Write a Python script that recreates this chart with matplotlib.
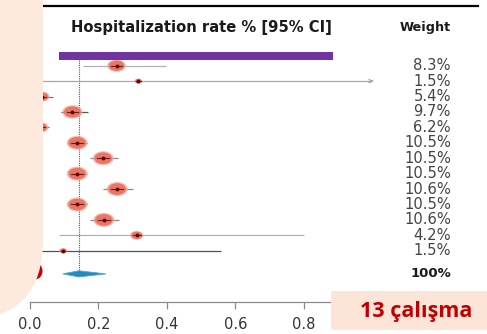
import numpy as np
import matplotlib
matplotlib.use("Agg")
import matplotlib.pyplot as plt
from matplotlib.patches import Ellipse, Polygon, FancyBboxPatch, Rectangle

# ---- study-level data ----
estimates = [0.253, 0.317, 0.035, 0.124, 0.030, 0.138, 0.214, 0.138, 0.255, 0.138, 0.216, 0.312, 0.097]
ci_low    = [0.154, 0.000, 0.010, 0.090, 0.005, 0.110, 0.175, 0.112, 0.212, 0.114, 0.175, 0.085, 0.000]
ci_high   = [0.397, 1.000, 0.068, 0.170, 0.055, 0.167, 0.258, 0.168, 0.302, 0.168, 0.261, 0.800, 0.558]
weights   = [8.3, 1.5, 5.4, 9.7, 6.2, 10.5, 10.5, 10.5, 10.6, 10.5, 10.6, 4.2, 1.5]
ci_arrow  = [False, True, False, False, False, False, False, False, False, False, False, False, False]

# pooled estimate
pooled_est = 0.143
pooled_low = 0.096
pooled_high = 0.222

x_ticks = [0.0, 0.2, 0.4, 0.6, 0.8]
tick_labels = ["0.0", "0.2", "0.4", "0.6", "0.8"]
header_text = "Hospitalization rate % [95% CI]"
weight_header = "Weight"
study_count_label = "13 çalışma"

# ---- figure ----
W, H = 487, 334
fig = plt.figure(figsize=(W / 100, H / 100), dpi=100)
fig.patch.set_facecolor("white")

# main forest-plot axes: x in proportion units, y in row units
px_per_unit = 342.0
x0_px = 30.0
row0_px, row_step = 65.7, 15.42
axis_px = 301.7
ax = fig.add_axes([0, (H - axis_px) / H, 1, axis_px / H])
ax.set_xlim(-x0_px / px_per_unit, (W - x0_px) / px_per_unit)
ax.set_ylim((axis_px - row0_px) / row_step, -row0_px / row_step)
ax.set_facecolor("none")
for s in ["top", "left", "right"]:
    ax.spines[s].set_visible(False)
ax.spines["bottom"].set_color("#8a8a8a")
ax.spines["bottom"].set_linewidth(0.9)
ax.spines["bottom"].set_bounds(0.0, 1.0)
ax.set_yticks([])
ax.set_xticks(x_ticks)
ax.set_xticklabels(tick_labels, fontsize=10.5, color="#333333")
ax.tick_params(axis="x", direction="out", length=4.8, width=0.9, color="#8a8a8a", pad=6)

ci_colors = ["#b0b0b0", "#a8a8a8", "#777777", "#555555", "#777777", "#8a8a8a", "#8a8a8a",
             "#8a8a8a", "#8a8a8a", "#8a8a8a", "#8a8a8a", "#b0b0b0", "#505050"]

n = len(estimates)
for i in range(n):
    ax.plot([ci_low[i], ci_high[i]], [i, i], color=ci_colors[i], lw=0.9, zorder=2,
            solid_capstyle="butt")
    if ci_arrow[i]:
        ax.annotate("", xy=(ci_high[i] + 0.005, i), xytext=(ci_high[i] - 0.01, i),
                    arrowprops=dict(arrowstyle="->", color=ci_colors[i], lw=0.9,
                                    mutation_scale=6), zorder=2)
    hpx = 3.6 * np.sqrt(weights[i])
    wpx = 1.5 * hpx
    halo = Ellipse((estimates[i], i), wpx * 1.2 / px_per_unit, hpx * 1.2 / row_step,
                   facecolor="#f3a193", edgecolor="none", alpha=0.7, zorder=3)
    core = Ellipse((estimates[i], i), wpx / px_per_unit, hpx / row_step,
                   facecolor="#ea6f5e", edgecolor="none", alpha=0.9, zorder=4)
    ax.add_patch(halo)
    ax.add_patch(core)
    ax.plot([estimates[i] - wpx * 0.35 / px_per_unit, estimates[i] + wpx * 0.35 / px_per_unit],
            [i, i], color="#6a2020", lw=0.8, zorder=5)
    ax.plot(estimates[i], i, marker="o", ms=1.8, color="#5a0a0a", zorder=6)

# pooled diamond
prow = n + 0.5
dh = 0.2
ax.add_patch(Polygon([[pooled_low, prow], [pooled_est, prow - dh],
                      [pooled_high, prow], [pooled_est, prow + dh]],
                     closed=True, facecolor="#1f8cbf", edgecolor="#4aa6d0", lw=0.6, zorder=4))

# reference line at pooled estimate
ax.plot([pooled_est, pooled_est], [-0.37, prow - 0.1], color="#555555", lw=0.8,
        ls=(0, (1, 1)), zorder=1)

# header and weights column
ax.text(0.5, -2.5, header_text, ha="center", va="center", fontsize=10.6,
        fontweight="bold", color="#1a1a1a")
wx = (451 - x0_px) / px_per_unit
ax.text(wx, -2.5, weight_header, ha="right", va="center", fontsize=9.2,
        fontweight="bold", color="#1a1a1a")
for i, w in enumerate(weights):
    ax.text(wx, i, f"{w:.1f}%", ha="right", va="center", fontsize=10.6, color="#444444")
ax.text(wx, prow, "100%", ha="right", va="center", fontsize=9.5, fontweight="bold",
        color="#1a1a1a")

# top border of the plot
ax.plot([0.038, (478 - x0_px) / px_per_unit], [-3.89, -3.89], color="black", lw=1.6,
        clip_on=False)

# ---- slide overlay (pixel coordinates) ----
ov = fig.add_axes([0, 0, 1, 1], zorder=5)
ov.set_xlim(0, W)
ov.set_ylim(H, 0)
ov.axis("off")
ov.set_facecolor("none")

# purple highlight bar over the header
ov.add_patch(Rectangle((58.7, 52.3), 333.3 - 58.7, 7.7, facecolor="#7232a0",
                       edgecolor="none", zorder=2))

# red shape peeking from behind the side panel
ov.add_patch(Ellipse((35, 271), 15, 17, facecolor="#c40000", edgecolor="none", zorder=1))
# side panel
ov.add_patch(FancyBboxPatch((-200, -100), 243, 420,
                            boxstyle="round,pad=0,rounding_size=80",
                            facecolor="#fde9dd", edgecolor="none", zorder=2))

# study count box
ov.add_patch(FancyBboxPatch((331, 291), 170, 39, boxstyle="round,pad=0,rounding_size=3",
                            facecolor="#fce4d6", edgecolor="none", zorder=2))
ov.text(416, 311, study_count_label, ha="center", va="center", fontsize=15.5,
        fontweight="bold", color="#c00000", family="Open Sans", zorder=3)

fig.savefig("out.png", dpi=100)
